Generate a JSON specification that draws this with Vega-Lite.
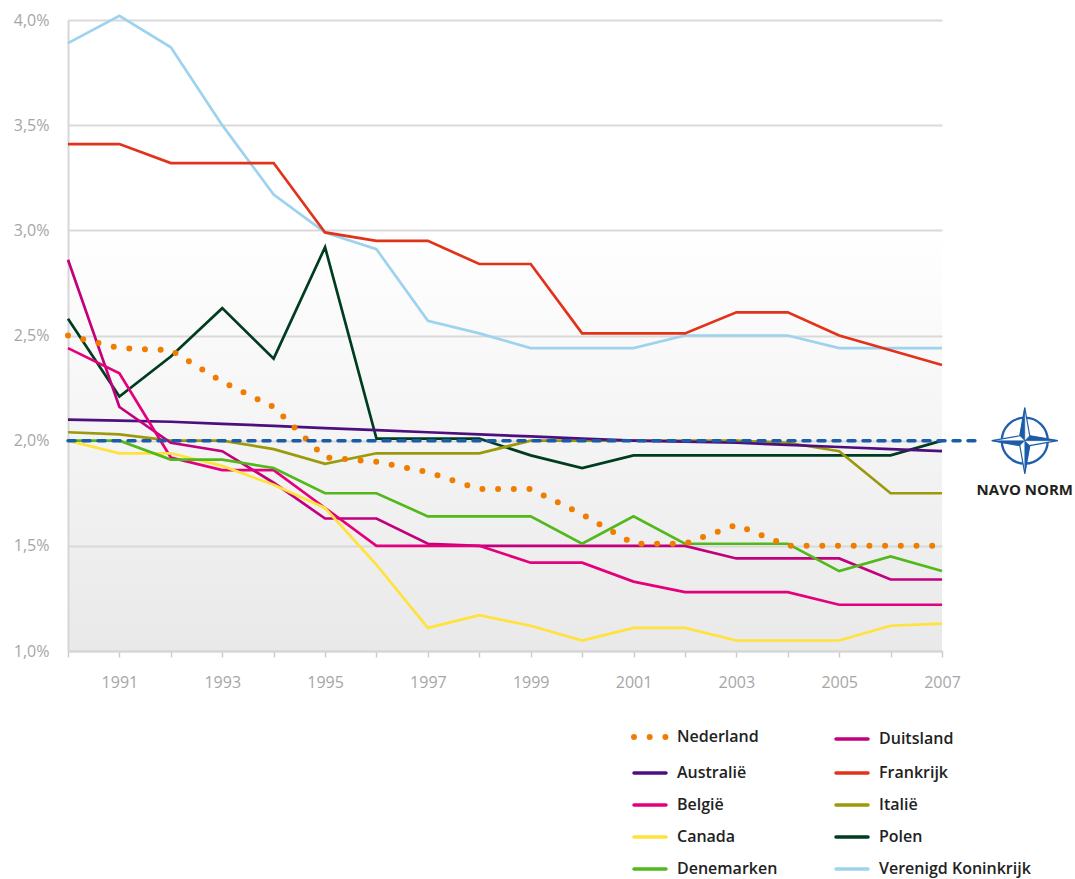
{
  "$schema": "https://vega.github.io/schema/vega-lite/v6.json",
  "width": 874,
  "height": 631,
  "autosize": {"type": "none"},
  "padding": {"left": 68, "top": 20, "right": 133, "bottom": 228},
  "background": "#ffffff",
  "config": {
    "font": "Open Sans",
    "view": {
      "stroke": null,
      "fill": {"gradient": "linear", "x1": 0, "y1": 0, "x2": 0, "y2": 1,
        "stops": [{"offset": 0, "color": "#ffffff"}, {"offset": 0.333, "color": "#ffffff"}, {"offset": 1, "color": "#e9e9e9"}]}
    }
  },
  "layer": [
    {
      "data": {"values": [
        {"country":"Verenigd Koninkrijk","year":1990,"value":3.89},{"country":"Verenigd Koninkrijk","year":1991,"value":4.02},{"country":"Verenigd Koninkrijk","year":1992,"value":3.87},{"country":"Verenigd Koninkrijk","year":1993,"value":3.50},{"country":"Verenigd Koninkrijk","year":1994,"value":3.17},{"country":"Verenigd Koninkrijk","year":1995,"value":2.99},{"country":"Verenigd Koninkrijk","year":1996,"value":2.91},{"country":"Verenigd Koninkrijk","year":1997,"value":2.57},{"country":"Verenigd Koninkrijk","year":1998,"value":2.51},{"country":"Verenigd Koninkrijk","year":1999,"value":2.44},{"country":"Verenigd Koninkrijk","year":2000,"value":2.44},{"country":"Verenigd Koninkrijk","year":2001,"value":2.44},{"country":"Verenigd Koninkrijk","year":2002,"value":2.50},{"country":"Verenigd Koninkrijk","year":2003,"value":2.50},{"country":"Verenigd Koninkrijk","year":2004,"value":2.50},{"country":"Verenigd Koninkrijk","year":2005,"value":2.44},{"country":"Verenigd Koninkrijk","year":2006,"value":2.44},{"country":"Verenigd Koninkrijk","year":2007,"value":2.44},
        {"country":"Frankrijk","year":1990,"value":3.41},{"country":"Frankrijk","year":1991,"value":3.41},{"country":"Frankrijk","year":1992,"value":3.32},{"country":"Frankrijk","year":1993,"value":3.32},{"country":"Frankrijk","year":1994,"value":3.32},{"country":"Frankrijk","year":1995,"value":2.99},{"country":"Frankrijk","year":1996,"value":2.95},{"country":"Frankrijk","year":1997,"value":2.95},{"country":"Frankrijk","year":1998,"value":2.84},{"country":"Frankrijk","year":1999,"value":2.84},{"country":"Frankrijk","year":2000,"value":2.51},{"country":"Frankrijk","year":2001,"value":2.51},{"country":"Frankrijk","year":2002,"value":2.51},{"country":"Frankrijk","year":2003,"value":2.61},{"country":"Frankrijk","year":2004,"value":2.61},{"country":"Frankrijk","year":2005,"value":2.50},{"country":"Frankrijk","year":2006,"value":2.43},{"country":"Frankrijk","year":2007,"value":2.36},
        {"country":"Polen","year":1990,"value":2.58},{"country":"Polen","year":1991,"value":2.21},{"country":"Polen","year":1992,"value":2.40},{"country":"Polen","year":1993,"value":2.63},{"country":"Polen","year":1994,"value":2.39},{"country":"Polen","year":1995,"value":2.92},{"country":"Polen","year":1996,"value":2.01},{"country":"Polen","year":1997,"value":2.01},{"country":"Polen","year":1998,"value":2.01},{"country":"Polen","year":1999,"value":1.93},{"country":"Polen","year":2000,"value":1.87},{"country":"Polen","year":2001,"value":1.93},{"country":"Polen","year":2002,"value":1.93},{"country":"Polen","year":2003,"value":1.93},{"country":"Polen","year":2004,"value":1.93},{"country":"Polen","year":2005,"value":1.93},{"country":"Polen","year":2006,"value":1.93},{"country":"Polen","year":2007,"value":2.00},
        {"country":"Italië","year":1990,"value":2.04},{"country":"Italië","year":1991,"value":2.03},{"country":"Italië","year":1992,"value":2.00},{"country":"Italië","year":1993,"value":2.00},{"country":"Italië","year":1994,"value":1.96},{"country":"Italië","year":1995,"value":1.89},{"country":"Italië","year":1996,"value":1.94},{"country":"Italië","year":1997,"value":1.94},{"country":"Italië","year":1998,"value":1.94},{"country":"Italië","year":1999,"value":2.00},{"country":"Italië","year":2000,"value":2.00},{"country":"Italië","year":2001,"value":2.00},{"country":"Italië","year":2002,"value":2.00},{"country":"Italië","year":2003,"value":2.00},{"country":"Italië","year":2004,"value":1.99},{"country":"Italië","year":2005,"value":1.95},{"country":"Italië","year":2006,"value":1.75},{"country":"Italië","year":2007,"value":1.75},
        {"country":"Australië","year":1990,"value":2.10},{"country":"Australië","year":1991,"value":2.095},{"country":"Australië","year":1992,"value":2.09},{"country":"Australië","year":1993,"value":2.08},{"country":"Australië","year":1994,"value":2.07},{"country":"Australië","year":1995,"value":2.06},{"country":"Australië","year":1996,"value":2.05},{"country":"Australië","year":1997,"value":2.04},{"country":"Australië","year":1998,"value":2.03},{"country":"Australië","year":1999,"value":2.02},{"country":"Australië","year":2000,"value":2.01},{"country":"Australië","year":2001,"value":2.00},{"country":"Australië","year":2002,"value":1.995},{"country":"Australië","year":2003,"value":1.99},{"country":"Australië","year":2004,"value":1.98},{"country":"Australië","year":2005,"value":1.97},{"country":"Australië","year":2006,"value":1.96},{"country":"Australië","year":2007,"value":1.95},
        {"country":"Duitsland","year":1990,"value":2.86},{"country":"Duitsland","year":1991,"value":2.16},{"country":"Duitsland","year":1992,"value":1.99},{"country":"Duitsland","year":1993,"value":1.95},{"country":"Duitsland","year":1994,"value":1.80},{"country":"Duitsland","year":1995,"value":1.63},{"country":"Duitsland","year":1996,"value":1.63},{"country":"Duitsland","year":1997,"value":1.51},{"country":"Duitsland","year":1998,"value":1.50},{"country":"Duitsland","year":1999,"value":1.50},{"country":"Duitsland","year":2000,"value":1.50},{"country":"Duitsland","year":2001,"value":1.50},{"country":"Duitsland","year":2002,"value":1.50},{"country":"Duitsland","year":2003,"value":1.44},{"country":"Duitsland","year":2004,"value":1.44},{"country":"Duitsland","year":2005,"value":1.44},{"country":"Duitsland","year":2006,"value":1.34},{"country":"Duitsland","year":2007,"value":1.34},
        {"country":"België","year":1990,"value":2.44},{"country":"België","year":1991,"value":2.32},{"country":"België","year":1992,"value":1.92},{"country":"België","year":1993,"value":1.86},{"country":"België","year":1994,"value":1.86},{"country":"België","year":1995,"value":1.68},{"country":"België","year":1996,"value":1.50},{"country":"België","year":1997,"value":1.50},{"country":"België","year":1998,"value":1.50},{"country":"België","year":1999,"value":1.42},{"country":"België","year":2000,"value":1.42},{"country":"België","year":2001,"value":1.33},{"country":"België","year":2002,"value":1.28},{"country":"België","year":2003,"value":1.28},{"country":"België","year":2004,"value":1.28},{"country":"België","year":2005,"value":1.22},{"country":"België","year":2006,"value":1.22},{"country":"België","year":2007,"value":1.22},
        {"country":"Canada","year":1990,"value":2.00},{"country":"Canada","year":1991,"value":1.94},{"country":"Canada","year":1992,"value":1.94},{"country":"Canada","year":1993,"value":1.88},{"country":"Canada","year":1994,"value":1.79},{"country":"Canada","year":1995,"value":1.68},{"country":"Canada","year":1996,"value":1.41},{"country":"Canada","year":1997,"value":1.11},{"country":"Canada","year":1998,"value":1.17},{"country":"Canada","year":1999,"value":1.12},{"country":"Canada","year":2000,"value":1.05},{"country":"Canada","year":2001,"value":1.11},{"country":"Canada","year":2002,"value":1.11},{"country":"Canada","year":2003,"value":1.05},{"country":"Canada","year":2004,"value":1.05},{"country":"Canada","year":2005,"value":1.05},{"country":"Canada","year":2006,"value":1.12},{"country":"Canada","year":2007,"value":1.13},
        {"country":"Denemarken","year":1990,"value":2.00},{"country":"Denemarken","year":1991,"value":2.00},{"country":"Denemarken","year":1992,"value":1.91},{"country":"Denemarken","year":1993,"value":1.91},{"country":"Denemarken","year":1994,"value":1.87},{"country":"Denemarken","year":1995,"value":1.75},{"country":"Denemarken","year":1996,"value":1.75},{"country":"Denemarken","year":1997,"value":1.64},{"country":"Denemarken","year":1998,"value":1.64},{"country":"Denemarken","year":1999,"value":1.64},{"country":"Denemarken","year":2000,"value":1.51},{"country":"Denemarken","year":2001,"value":1.64},{"country":"Denemarken","year":2002,"value":1.51},{"country":"Denemarken","year":2003,"value":1.51},{"country":"Denemarken","year":2004,"value":1.51},{"country":"Denemarken","year":2005,"value":1.38},{"country":"Denemarken","year":2006,"value":1.45},{"country":"Denemarken","year":2007,"value":1.38},
        {"country":"Nederland","year":1990,"value":2.50},{"country":"Nederland","year":1991,"value":2.44},{"country":"Nederland","year":1992,"value":2.43},{"country":"Nederland","year":1993,"value":2.28},{"country":"Nederland","year":1994,"value":2.16},{"country":"Nederland","year":1995,"value":1.92},{"country":"Nederland","year":1996,"value":1.90},{"country":"Nederland","year":1997,"value":1.85},{"country":"Nederland","year":1998,"value":1.77},{"country":"Nederland","year":1999,"value":1.77},{"country":"Nederland","year":2000,"value":1.65},{"country":"Nederland","year":2001,"value":1.51},{"country":"Nederland","year":2002,"value":1.51},{"country":"Nederland","year":2003,"value":1.60},{"country":"Nederland","year":2004,"value":1.50},{"country":"Nederland","year":2005,"value":1.50},{"country":"Nederland","year":2006,"value":1.50},{"country":"Nederland","year":2007,"value":1.50}
      ]},
      "encoding": {
        "x": {"field": "year", "type": "quantitative",
          "scale": {"domain": [1990, 2007], "nice": false, "zero": false},
          "axis": {"values": [1990,1991,1992,1993,1994,1995,1996,1997,1998,1999,2000,2001,2002,2003,2004,2005,2006,2007],
            "labelExpr": "datum.value % 2 == 1 ? format(datum.value, 'd') : ''",
            "grid": false, "title": null, "domainColor": "#d6d6d6", "domainWidth": 2,
            "tickColor": "#cccccc", "tickWidth": 1.5, "tickSize": 6,
            "labelColor": "#a6a6a6", "labelFontSize": 16, "labelPadding": 17, "labelFont": "Open Sans", "labelFlush": false}},
        "y": {"field": "value", "type": "quantitative",
          "scale": {"domain": [1, 4], "nice": false, "zero": false},
          "axis": {"values": [1, 1.5, 2, 2.5, 3, 3.5, 4],
            "labelExpr": "replace(format(datum.value, '.1f'), '.', ',') + '%'",
            "grid": true, "gridColor": "#d9d9d9", "gridWidth": 2,
            "domainColor": "#d6d6d6", "domainWidth": 2, "ticks": false,
            "labelPadding": 19, "labelColor": "#a6a6a6", "labelFontSize": 16, "labelFont": "Open Sans", "title": null}},
        "color": {"field": "country", "type": "nominal",
          "scale": {
            "domain": ["Nederland","Australië","België","Canada","Denemarken","Duitsland","Frankrijk","Italië","Polen","Verenigd Koninkrijk"],
            "range": ["#f07d00","#4d0f7e","#e4007c","#ffe23c","#52b81b","#c2007d","#e2321a","#9c9a0c","#003d20","#9dd3ee"]},
          "legend": {"orient": "none", "legendX": 574, "legendY": 709, "columns": 2, "columnPadding": 51, "rowPadding": 16,
            "title": null, "symbolType": "stroke", "symbolSize": 1024, "symbolStrokeWidth": 3.5, "padding": 0,
            "labelFont": "Open Sans", "labelFontSize": 16, "labelFontWeight": 600, "labelColor": "#222222", "labelOffset": 19,
            "encode": {"symbols": {"update": {
              "strokeDash": {"signal": "datum.value === 'Nederland' ? [0, 15.7] : [1, 0]"},
              "strokeWidth": {"signal": "datum.value === 'Nederland' ? 6 : 3.5"},
              "strokeCap": {"value": "round"}}}}}}
      },
      "layer": [
        {
          "transform": [{"filter": "datum.country !== 'Nederland'"}],
          "mark": {"type": "line", "strokeWidth": 2.7, "strokeJoin": "miter", "clip": false}
        },
        {
          "transform": [{"filter": "datum.country === 'Nederland'"}],
          "mark": {"type": "line", "strokeWidth": 6, "strokeDash": [0, 15.7], "strokeCap": "round", "clip": false}
        }
      ]
    },
    {
      "data": {"values": [{}]},
      "mark": {"type": "rule", "color": "#1a5ca8", "strokeWidth": 3.5, "strokeDash": [7, 8], "strokeCap": "round", "clip": false},
      "encoding": {"x": {"datum": 1990}, "x2": {"datum": 2007.64}, "y": {"datum": 2.0}}
    },
    {
      "data": {"values": [{}]},
      "mark": {"type": "point", "shape": "circle", "filled": false, "stroke": "#1f5fad", "strokeWidth": 2.3, "size": 2116, "opacity": 1, "clip": false},
      "encoding": {"x": {"datum": 2008.61}, "y": {"datum": 2.0}}
    },
    {
      "data": {"values": [{}]},
      "mark": {"type": "point", "shape": "M0,-1L0.15,-0.15L1,0L0.15,0.15L0,1L-0.15,0.15L-1,0L-0.15,-0.15Z", "filled": true, "fill": "#ffffff", "stroke": "#1f5fad", "strokeWidth": 1.2, "size": 4356, "opacity": 1, "clip": false},
      "encoding": {"x": {"datum": 2008.61}, "y": {"datum": 2.0}}
    },
    {
      "data": {"values": [{}]},
      "mark": {"type": "point", "shape": "M0,-1L-0.15,-0.15L0,0Z M1,0L0.15,-0.15L0,0Z M0,1L0.15,0.15L0,0Z M-1,0L-0.15,0.15L0,0Z", "filled": true, "fill": "#1a5ca8", "stroke": "#1a5ca8", "strokeWidth": 0.5, "size": 4356, "opacity": 1, "clip": false},
      "encoding": {"x": {"datum": 2008.61}, "y": {"datum": 2.0}}
    },
    {
      "data": {"values": [{}]},
      "mark": {"type": "text", "text": "NAVO NORM", "font": "Open Sans", "fontSize": 15, "fontWeight": "bold", "color": "#231f20", "align": "center", "baseline": "middle", "clip": false},
      "encoding": {"x": {"datum": 2008.61}, "y": {"datum": 1.765}}
    }
  ]
}
